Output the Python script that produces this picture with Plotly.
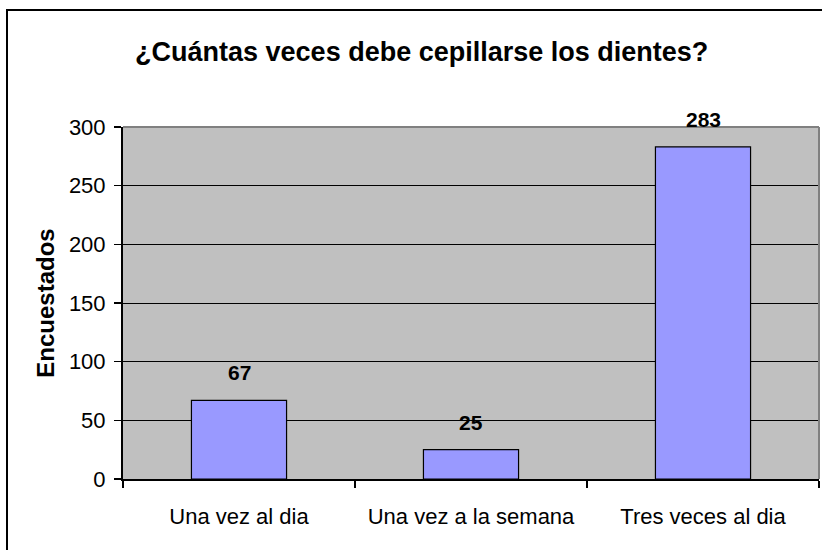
import plotly.graph_objects as go

categories = ["Una vez al dia", "Una vez a la semana", "Tres veces al dia"]
values = [67, 25, 283]
y_ticks = [0, 50, 100, 150, 200, 250, 300]
title_text = "¿Cuántas veces debe cepillarse los dientes?"
y_title = "Encuestados"

FONT = "Arial, 'Liberation Sans', sans-serif"

fig = go.Figure()
fig.add_trace(go.Bar(
    x=categories, y=values,
    marker=dict(color="#9999FF", line=dict(color="black", width=1.2)),
    width=0.41,
    hoverinfo="skip",
))

for c, v in zip(categories, values):
    fig.add_annotation(x=c, y=v, text=f"<b>{v}</b>", showarrow=False,
                       yanchor="bottom", yshift=14,
                       font=dict(family=FONT, size=21, color="black"))

fig.update_layout(
    width=822, height=550,
    margin=dict(l=123, r=3, t=127, b=71),
    paper_bgcolor="white",
    plot_bgcolor="#C0C0C0",
    showlegend=False,
    bargap=0.59,
    title=dict(text=f"<b>{title_text}</b>", x=0.513, xanchor="center",
               y=1 - 52/550, yanchor="middle",
               font=dict(family=FONT, size=27, color="black")),
    font=dict(family=FONT, color="black"),
    xaxis=dict(
        type="category",
        tickson="boundaries",
        ticks="outside", ticklen=7, tickcolor="black", tickwidth=1.5,
        showline=True, linecolor="black", linewidth=2,
        showgrid=False,
        tickfont=dict(family=FONT, size=22, color="black"),
        ticklabelstandoff=17,
        range=[-0.5, 2.5],
        fixedrange=True,
    ),
    yaxis=dict(
        range=[0, 300],
        tickvals=y_ticks,
        ticks="outside", ticklen=7, tickcolor="black", tickwidth=1.5,
        showline=True, linecolor="black", linewidth=2,
        showgrid=True, gridcolor="black", gridwidth=1,
        zeroline=False,
        tickfont=dict(family=FONT, size=22, color="black"),
        ticklabelstandoff=4,
        title=dict(text=f"<b>{y_title}</b>", standoff=7,
                   font=dict(family=FONT, size=24, color="black")),
        fixedrange=True,
    ),
)

# plot area top/right border (gray)
fig.add_shape(type="line", xref="paper", yref="paper", x0=0, x1=1, y0=1, y1=1,
              line=dict(color="#808080", width=2), layer="above")
fig.add_shape(type="line", xref="paper", yref="paper", x0=1, x1=1, y0=0, y1=1,
              line=dict(color="#808080", width=2), layer="above")
# outer chart border
fig.add_shape(type="rect", xref="paper", yref="paper",
              x0=(7 - 123) / 696, x1=(830 - 123) / 696,
              y0=(479 - 560) / 352, y1=(479 - 10) / 352,
              line=dict(color="black", width=2), fillcolor="rgba(0,0,0,0)",
              layer="above")

fig.write_html("out.html",
               config={"displayModeBar": False, "staticPlot": True},
               post_script="document.body.style.margin='0';document.body.style.padding='0';")
